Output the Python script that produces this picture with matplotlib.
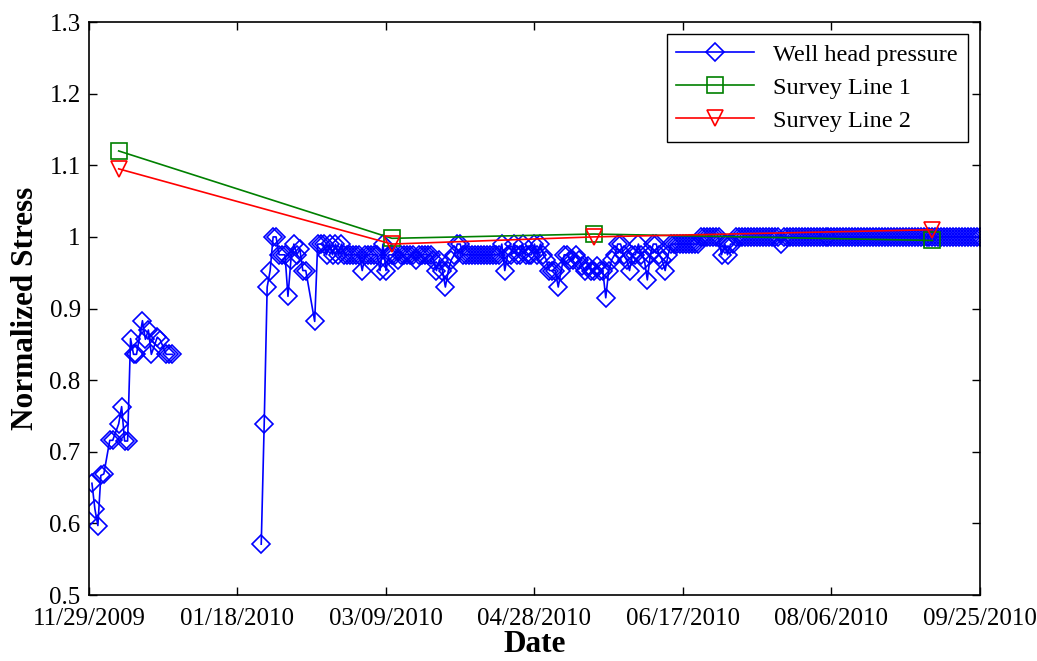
import numpy as np
import pandas as pd
import matplotlib
matplotlib.use("Agg")
import matplotlib.pyplot as plt
import matplotlib.dates as mdates

plt.rcParams['font.family'] = ['Liberation Serif', 'DejaVu Serif']

start = pd.Timestamp('2009-11-29')

# well head pressure, early readings (day offset from 11/29/2009)
early_days = [1, 2, 3, 4, 5, 7, 8, 10, 11, 12, 13, 14, 15, 16, 18, 19, 20, 21, 23, 24, 26, 27, 28]
early_vals = [0.656, 0.620, 0.597, 0.667, 0.669, 0.716, 0.716, 0.739, 0.763, 0.715, 0.715,
              0.858, 0.836, 0.836, 0.883, 0.857, 0.870, 0.836, 0.860, 0.856, 0.836, 0.836, 0.836]

# restart after the shut-in period
restart_days = [58, 59, 60, 61, 62, 63, 64, 65, 66, 67, 68, 69, 70, 71, 72, 73, 76]
restart_vals = [0.571, 0.739, 0.930, 0.953, 1.000, 1.000, 0.975, 0.975, 0.975, 0.917,
                0.968, 0.990, 0.975, 0.983, 0.953, 0.953, 0.882]

# daily readings from day 77 to day 300
daily_first = 77
daily_vals = [
    0.990, 0.990, 0.990, 0.975, 0.990, 0.975, 0.990, 0.975, 0.990, 0.975,   # 77-86
    0.975, 0.975, 0.975, 0.975, 0.975, 0.953, 0.975, 0.975, 0.975, 0.975,   # 87-96
    0.975, 0.953, 0.990, 0.953, 0.975, 0.975, 0.975, 0.968, 0.975, 0.975,   # 97-106
    0.975, 0.975, 0.975, 0.968, 0.975, 0.975, 0.975, 0.975, 0.975, 0.968,   # 107-116
    0.953, 0.968, 0.953, 0.930, 0.953, 0.968, 0.975, 0.990, 0.990, 0.975,   # 117-126
    0.975, 0.975, 0.975, 0.975, 0.975, 0.975, 0.975, 0.975, 0.975, 0.975,   # 127-136
    0.975, 0.975, 0.990, 0.953, 0.975, 0.975, 0.990, 0.975, 0.975, 0.990,   # 137-146
    0.975, 0.975, 0.975, 0.990, 0.975, 0.990, 0.975, 0.968, 0.953, 0.953,   # 147-156
    0.953, 0.930, 0.953, 0.975, 0.975, 0.968, 0.968, 0.975, 0.968, 0.960,   # 157-166
    0.953, 0.960, 0.953, 0.953, 0.960, 0.953, 0.953, 0.915, 0.953, 0.968,   # 167-176
    0.975, 0.990, 0.990, 0.975, 0.968, 0.953, 0.975, 0.975, 0.990, 0.975,   # 177-186
    0.968, 0.940, 0.975, 0.990, 0.990, 0.975, 0.968, 0.953, 0.975, 0.990,   # 187-196
    0.990, 0.990, 0.990, 0.990, 0.990, 0.990, 0.990, 0.990, 0.990, 1.000,   # 197-206
    1.000, 1.000, 1.000, 1.000, 1.000, 1.000, 0.975, 0.990, 0.975, 0.990,   # 207-216
    0.990, 1.000, 1.000, 1.000, 1.000, 1.000, 1.000, 1.000, 1.000, 1.000,   # 217-226
    1.000, 1.000, 1.000, 1.000, 1.000, 1.000, 0.990, 1.000, 1.000, 1.000,   # 227-236
    1.000, 1.000, 1.000, 1.000, 1.000, 1.000, 1.000, 1.000, 1.000, 1.000,   # 237-246
    1.000, 1.000, 1.000, 1.000, 1.000, 1.000, 1.000, 1.000, 1.000, 1.000,   # 247-256
    1.000, 1.000, 1.000, 1.000, 1.000, 1.000, 1.000, 1.000, 1.000, 1.000,   # 257-266
    1.000, 1.000, 1.000, 1.000, 1.000, 1.000, 1.000, 1.000, 1.000, 1.000,   # 267-276
    1.000, 1.000, 1.000, 1.000, 1.000, 1.000, 1.000, 1.000, 1.000, 1.000,   # 277-286
    1.000, 1.000, 1.000, 1.000, 1.000, 1.000, 1.000, 1.000, 1.000, 1.000,   # 287-296
    1.000, 1.000, 1.000, 1.000,                                             # 297-300
]

# survey lines
survey_dates = ['2009-12-09', '2010-03-11', '2010-05-18', '2010-09-09']
survey1 = [1.120, 0.998, 1.004, 0.995]
survey2 = [1.095, 0.990, 1.000, 1.010]

# NaN between the two records so the shut-in gap is not bridged
well_days = early_days + [40] + restart_days + list(range(daily_first, daily_first + len(daily_vals)))
well_vals = early_vals + [np.nan] + restart_vals + daily_vals
well_dates = [start + pd.Timedelta(days=d) for d in well_days]
s_dates = pd.to_datetime(survey_dates)

fig = plt.figure(figsize=(10.37, 6.61), dpi=100)
ax = fig.add_axes([0.0858, 0.0998, 0.8592, 0.8669])

ax.plot(well_dates, well_vals, color='b', lw=1.2, marker='D', ms=9, mfc='none', mew=1.2,
        label='Well head pressure')
ax.plot(s_dates, survey1, color='g', lw=1.2, marker='s', ms=11, mfc='none', mew=1.2,
        label='Survey Line 1')
ax.plot(s_dates, survey2, color='r', lw=1.2, marker='v', ms=12, mfc='none', mew=1.2,
        label='Survey Line 2')

ticks = [start + pd.Timedelta(days=50 * k) for k in range(7)]
ax.set_xlim(ticks[0], ticks[-1])
ax.set_xticks(ticks)
ax.xaxis.set_major_formatter(mdates.DateFormatter('%m/%d/%Y'))
ax.set_ylim(0.5, 1.3)
ax.set_yticks(np.arange(0.5, 1.31, 0.1))
ax.set_yticklabels(['0.5', '0.6', '0.7', '0.8', '0.9', '1', '1.1', '1.2', '1.3'])

ax.tick_params(direction='in', length=6, width=1, labelsize=18, top=True, right=True)
ax.tick_params(axis='x', pad=9)
ax.tick_params(axis='y', pad=6)
for sp in ax.spines.values():
    sp.set_linewidth(1.2)

ax.set_xlabel('Date', fontsize=22.5, fontweight='bold', labelpad=0)
ax.set_ylabel('Normalized Stress', fontsize=22.5, fontweight='bold', labelpad=7)

leg = ax.legend(loc='upper right', fontsize=17.5, fancybox=False, edgecolor='k',
                framealpha=1, handlelength=3.2, labelspacing=0.45, borderaxespad=0.5)
leg.get_frame().set_linewidth(1.0)

fig.savefig('out.png', dpi=100)
